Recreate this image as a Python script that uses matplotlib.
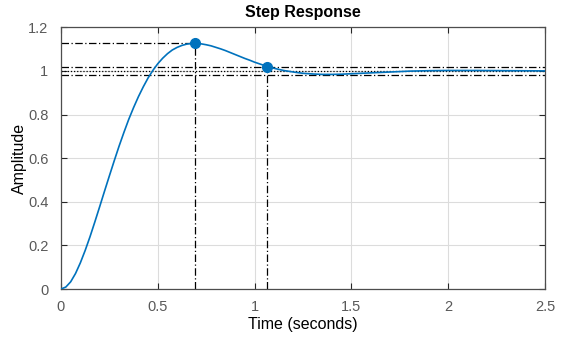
import numpy as np
import matplotlib
matplotlib.use('Agg')
import matplotlib.pyplot as plt

# step response samples (time in s, amplitude)
t = [0.0, 0.025, 0.05, 0.075, 0.1, 0.125, 0.15, 0.175, 0.2, 0.225, 0.25,
     0.275, 0.3, 0.325, 0.35, 0.375, 0.4, 0.425, 0.45, 0.475, 0.5,
     0.525, 0.55, 0.575, 0.6, 0.625, 0.65, 0.675, 0.7, 0.725, 0.75,
     0.775, 0.8, 0.825, 0.85, 0.875, 0.9, 0.925, 0.95, 0.975, 1.0,
     1.05, 1.1, 1.15, 1.2, 1.25, 1.3, 1.35, 1.4, 1.45, 1.5,
     1.55, 1.6, 1.65, 1.7, 1.75, 1.8, 1.85, 1.9, 1.95, 2.0,
     2.05, 2.1, 2.15, 2.2, 2.25, 2.3, 2.35, 2.4, 2.45, 2.5]
y = [0.0, 0.009, 0.033, 0.071, 0.120, 0.177, 0.240, 0.308, 0.378, 0.449, 0.519,
     0.588, 0.655, 0.718, 0.778, 0.832, 0.882, 0.927, 0.968, 1.003, 1.033,
     1.058, 1.079, 1.096, 1.108, 1.117, 1.123, 1.126, 1.126, 1.124, 1.120,
     1.115, 1.108, 1.101, 1.093, 1.084, 1.075, 1.066, 1.057, 1.049, 1.040,
     1.025, 1.012, 1.002, 0.995, 0.989, 0.986, 0.984, 0.984, 0.985, 0.987,
     0.989, 0.991, 0.993, 0.995, 0.997, 0.999, 1.000, 1.001, 1.0015, 1.002,
     1.002, 1.002, 1.002, 1.0016, 1.0014, 1.001, 1.0008, 1.0006, 1.0003, 1.0001]

peak_t, peak_y = 0.69, 1.126
settle_t, settle_y = 1.064, 1.02
final_value = 1.0
band = 0.02

xticks = [0, 0.5, 1, 1.5, 2, 2.5]
yticks = [0, 0.2, 0.4, 0.6, 0.8, 1, 1.2]

plt.rcParams['font.family'] = ['Liberation Sans', 'DejaVu Sans']

fig = plt.figure(figsize=(5.71, 3.37), dpi=100)
ax = fig.add_axes([0.1068, 0.1424, 0.8477, 0.7766])

ax.grid(True, color='#dcdcdc', linewidth=0.8)
ax.set_axisbelow(True)

# characteristic guide lines
k = dict(color='black', linewidth=0.9, dashes=(6, 2, 1, 2))
ax.plot([0, peak_t], [peak_y, peak_y], **k)
ax.plot([peak_t, peak_t], [0, peak_y], **k)
ax.plot([settle_t, settle_t], [0, settle_y], **k)
ax.plot([0, 2.5], [final_value + band] * 2, **k)
ax.plot([0, 2.5], [final_value - band] * 2, **k)
ax.plot([0, 2.5], [final_value] * 2, color='black', linewidth=0.9, linestyle=(0, (1, 1.5)))

ax.plot(t, y, color='#0072BD', linewidth=1.2, zorder=3)
ax.plot([peak_t, settle_t], [peak_y, settle_y], 'o', color='#0072BD',
        markersize=7, zorder=4)

ax.set_xlim(0, 2.5)
ax.set_ylim(0, 1.2)
ax.set_xticks(xticks)
ax.set_xticklabels(['0', '0.5', '1', '1.5', '2', '2.5'])
ax.set_yticks(yticks)
ax.set_yticklabels(['0', '0.2', '0.4', '0.6', '0.8', '1', '1.2'])
ax.tick_params(direction='in', top=True, right=True, length=4, width=0.8,
               colors='#262626', labelcolor='#595959', labelsize=10.5)
ax.tick_params(axis='x', pad=8)
ax.tick_params(axis='y', pad=9)
for s in ax.spines.values():
    s.set_color('#4d4d4d')
    s.set_linewidth(0.9)

ax.set_xlabel('Time (seconds)', fontsize=11.5, labelpad=2)
ax.set_ylabel('Amplitude', fontsize=11.5, labelpad=1)
ax.set_title('Step Response', fontsize=11.5, fontweight='bold', pad=7.5)

fig.savefig('out.png', dpi=100)
